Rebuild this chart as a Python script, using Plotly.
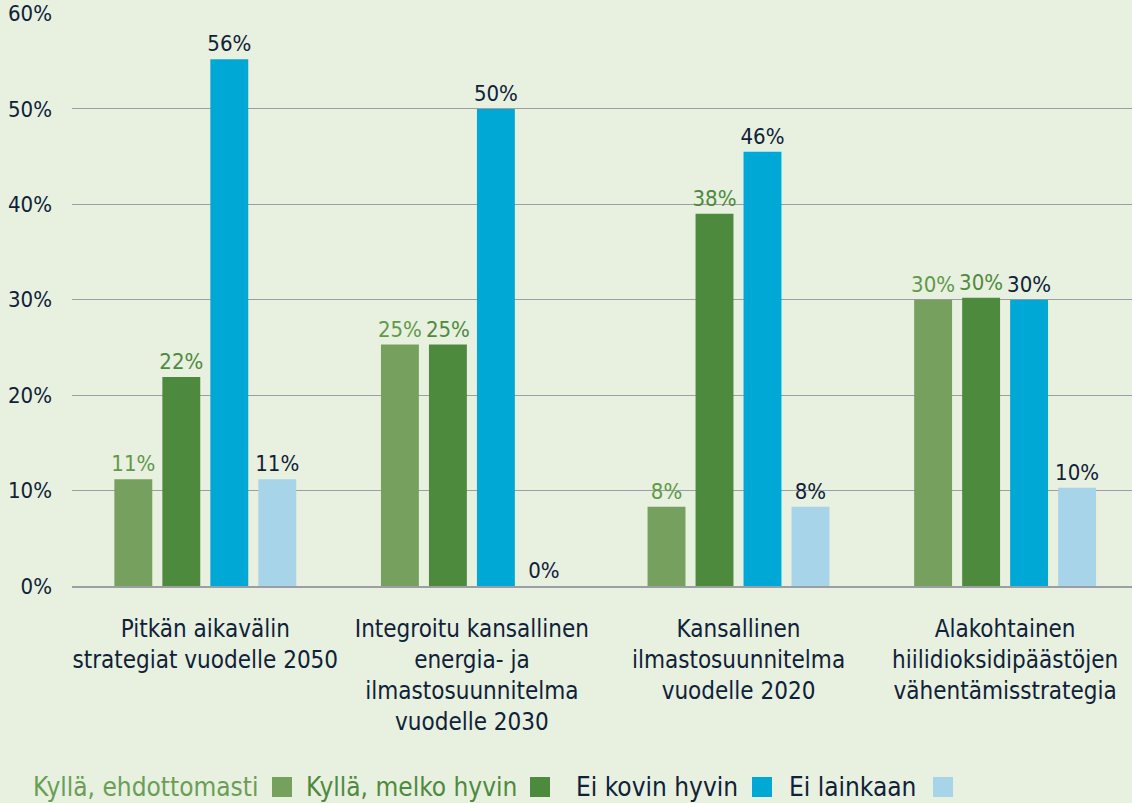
import plotly.graph_objects as go

categories = [
    "Pitkän aikavälin<br>strategiat vuodelle 2050",
    "Integroitu kansallinen<br>energia- ja<br>ilmastosuunnitelma<br>vuodelle 2030",
    "Kansallinen<br>ilmastosuunnitelma<br>vuodelle 2020",
    "Alakohtainen<br>hiilidioksidipäästöjen<br>vähentämisstrategia",
]
series_names = ["Kyllä, ehdottomasti", "Kyllä, melko hyvin", "Ei kovin hyvin", "Ei lainkaan"]
values_s1 = [11.2, 25.3, 8.3, 30.0]
values_s2 = [21.9, 25.3, 39.0, 30.2]
values_s3 = [55.2, 50.0, 45.5, 30.0]
values_s4 = [11.2, 0.0, 8.3, 10.3]
labels_s1 = ["11%", "25%", "8%", "30%"]
labels_s2 = ["22%", "25%", "38%", "30%"]
labels_s3 = ["56%", "50%", "46%", "30%"]
labels_s4 = ["11%", "0%", "8%", "10%"]
y_ticks = [0, 10, 20, 30, 40, 50, 60]
y_tick_labels = ["0%", "10%", "20%", "30%", "40%", "50%", "60%"]

bar_colors = ["#76a05e", "#4e8a3e", "#00a8d6", "#a8d4ea"]
text_colors = ["#5f9a4a", "#4e8a3e", "#0f2238", "#0f2238"]
NAVY = "#0f2238"
FONT = "DejaVu Sans Condensed, Roboto, sans-serif"
BG = "#e8f0e0"

W, H = 1132, 803
L, R, T, B = 72, 0, 13, 217

fig = go.Figure()
all_vals = [values_s1, values_s2, values_s3, values_s4]
all_labels = [labels_s1, labels_s2, labels_s3, labels_s4]
xs = list(range(len(categories)))
for i in range(4):
    fig.add_trace(go.Bar(
        x=xs, y=all_vals[i], name=series_names[i],
        marker=dict(color=bar_colors[i], line=dict(width=0)),
        text=all_labels[i], textposition="outside",
        textfont=dict(family=FONT, size=22, color=text_colors[i]),
        constraintext="none", cliponaxis=False, showlegend=False,
    ))

fig.update_layout(
    width=W, height=H,
    margin=dict(l=L, r=R, t=T, b=B, pad=0),
    paper_bgcolor=BG, plot_bgcolor=BG,
    barmode="group", bargap=0.28, bargroupgap=0.21,
    font=dict(family=FONT, color=NAVY),
)
fig.update_xaxes(
    range=[-0.5, 3.476], tickvals=xs, ticktext=categories,
    tickfont=dict(family=FONT, size=24, color=NAVY),
    showgrid=False, showline=True, linecolor="#9c9ea6", linewidth=2,
    ticks="", ticklabelstandoff=20, zeroline=False,
)
fig.update_yaxes(
    range=[0, 60.05], tickvals=y_ticks, ticktext=y_tick_labels,
    tickfont=dict(family=FONT, size=22, color=NAVY),
    showgrid=True, gridcolor="#9c9ea6", gridwidth=1,
    zeroline=False, showline=False, ticks="", ticklabelstandoff=19,
)

plot_w = W - L - R
plot_h = H - T - B

def px_x(x):
    return (x - L) / plot_w

def px_y(y):
    return (H - B - y) / plot_h

legend_text_right = [260, 519, 740, 918]
legend_sq_left = [272, 530, 752, 933]
legend_text_colors = ["#6a9e55", "#4e8a3e", NAVY, NAVY]
for i in range(4):
    fig.add_annotation(
        x=px_x(legend_text_right[i]), y=px_y(787), xref="paper", yref="paper",
        text=series_names[i], showarrow=False, xanchor="right", yanchor="middle",
        font=dict(family=FONT, size=26, color=legend_text_colors[i]),
    )
    fig.add_shape(
        type="rect", xref="paper", yref="paper",
        x0=px_x(legend_sq_left[i]), x1=px_x(legend_sq_left[i] + 20),
        y0=px_y(777), y1=px_y(797),
        fillcolor=bar_colors[i], line=dict(width=0),
    )

fig.write_html("out.html", config={"displayModeBar": False},
               post_script="document.body.style.margin='0';")
